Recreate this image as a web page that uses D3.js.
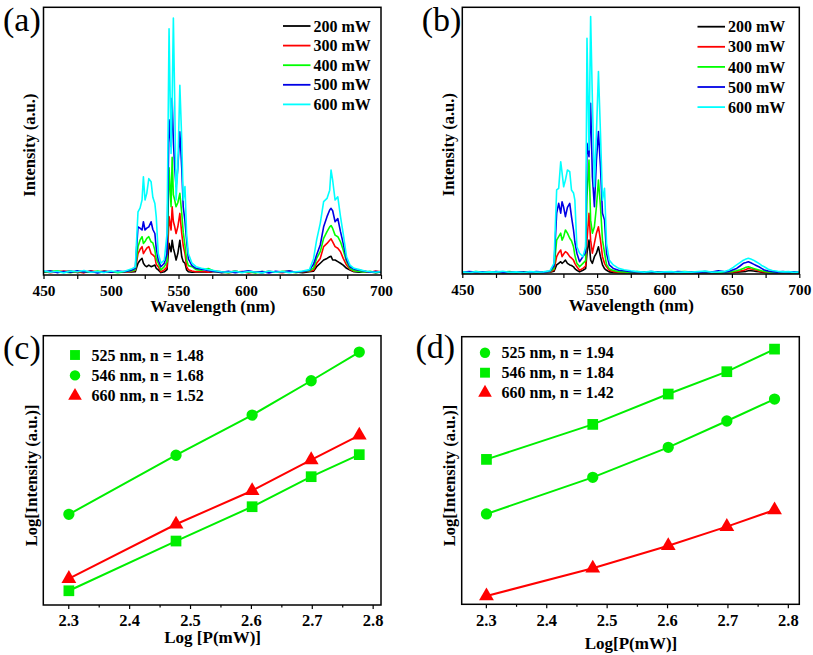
<!DOCTYPE html>
<html><head><meta charset="utf-8">
<script src="https://cdn.jsdelivr.net/npm/d3@7"></script>
<style>
body{margin:0;background:#fff}
svg{display:block}
text{font-family:"Liberation Serif","Times New Roman",serif;font-weight:bold;fill:#000}
</style>
</head><body>
<svg id="chart" width="813" height="655"></svg>
<script>
// ---------- data ----------
const powers = ["200 mW", "300 mW", "400 mW", "500 mW", "600 mW"];
const powerColors = ["#000000", "#ff0000", "#00ff00", "#0000e6", "#00ffff"];
const wlTicks = [450, 475, 500, 525, 550, 575, 600, 625, 650, 675, 700];

// panel (a) wavelengths (nm) and intensities (a.u.)
const wlA = [450,455,460,465,470,475,480,485,490,495,500,505,510,515,
  518,520,521.5,523,524,525.2,526.5,528,529.7,531,532.5,533.5,535,537,539.5,541.5,543,544.5,545.3,546.2,547.2,548.2,549.5,551,552.4,553.5,554.8,556,557.3,560,563,
  567,572,577,582,587,592,597,602,607,612,617,622,627,632,637,642,647,
  650,652.3,655,657.5,660,662,663,664.2,666,668,670,672,674.5,677,680,
  684,688,692,696,700];
const a200 = [1.1,1.4,1.0,1.2,1.5,0.9,1.3,1.1,1.0,1.4,1.2,1.0,1.3,1.1,
  1.2,4.4,5.5,6.2,4.4,3.5,3.1,3.7,3.1,3.4,3.7,2.5,1.9,0.9,1.2,2,11.8,8.7,13,10,8,5.6,8,13,6.8,5,4.4,1.9,1.2,1.0,1.1,
  1.2,1.0,1.3,0.9,1.1,1.4,1.0,1.2,1.1,0.9,1.3,1.0,1.2,1.4,1.1,0.9,1.2,
  1.4,3.1,4.4,5.6,6.2,6.8,7,5.6,5.6,5,4.4,3.7,2.5,1.9,1.2,
  1.0,1.3,1.1,0.9,1.1];
const a300 = [1.3,0.9,1.2,1.5,1.0,1.2,0.8,1.6,1.1,1.4,1.0,1.2,1.0,1.3,
  1.8,8,9.5,10.6,8,9,10,10.6,8,7.5,6.8,4,3.1,1.2,1.9,3,21.8,16.8,25.5,20,18,15.5,18,23,15.5,11,8,3.1,2,1.5,1.2,
  1.4,1.0,1.5,1.2,0.9,1.1,1.3,0.8,1.2,1.0,1.4,1.1,0.9,1.3,1.0,1.2,1.4,
  1.8,4.4,6.2,10.6,11.8,13,13.5,12.4,10.6,10,8.7,6.2,3.7,2.1,1.4,
  1.6,1.2,1.0,1.5,1.2];
const a400 = [1.0,1.3,1.6,1.1,0.9,1.4,1.2,1.0,1.5,1.1,1.3,0.9,1.2,1.5,
  2,10.6,13,14.3,11.8,12.5,13.7,14.3,12.4,12,9.3,6,4.4,1.9,3.1,5,40,25.5,44,30,28,25.5,27,30.5,23,16,11,5.6,3.5,3.1,2.0,
  1.8,2.4,1.3,1.1,0.9,1.4,1.0,1.2,0.8,1.3,1.1,1.0,1.4,1.2,0.9,1.3,1.6,
  2.5,6.2,8.7,13.7,16.2,18,18.5,17.4,14.9,14.3,12.4,9.3,5,2.5,1.6,
  1.3,1.1,1.4,0.9,1.2];
const a500 = [1.2,1.5,0.9,1.3,1.0,1.6,1.1,1.4,0.8,1.3,1.0,1.5,1.2,1.8,
  2.5,18,17.5,16.8,19.9,16.8,17.5,18,19.9,17,15.5,10,5.6,3.1,4.4,8,58,48,66,50,40,33,40,53.5,40,25.5,20,13,6,3.5,2.5,
  2.2,1.7,1.3,1.0,1.4,0.9,1.2,1.6,1.0,1.3,0.8,1.4,1.1,1.5,1.0,1.3,1.8,
  4,7.5,11.2,18,21.8,24.3,24.9,24,19.9,21.1,16.2,11.8,5.6,3.1,2.2,
  1.8,1.4,1.0,1.3,1.1];
const a600 = [1.6,1.0,1.4,0.8,1.5,1.2,1.7,1.0,1.3,0.9,1.5,1.1,1.4,2.2,
  3,23.6,25,28,36.7,28,30.5,36,34.8,29,26.7,21.8,8,4.4,5.6,15.5,92,45.4,65,96,65,28,40,70.9,50.4,28,33,15.5,8,4.4,3.1,
  2.5,2.0,1.6,1.2,1.0,1.4,0.9,1.3,1.1,0.8,1.5,1.0,1.3,0.9,1.2,1.5,2.0,
  6,13,19.3,27.4,28.6,31.7,39.2,35.4,28,29.2,21.8,15.5,6.8,3.7,2.5,
  2.0,1.5,1.2,1.0,1.3];

// panel (b)
const wlB = [450,455,460,465,470,475,480,485,490,495,500,505,510,515,
  518,520,521.5,523,524,525.2,526.5,528,529.7,531,532.5,533.5,535,537,539.5,541.5,542.5,544,545.2,546.5,548,549.5,551,552.5,554,555.5,557,559,562,566,
  570,575,580,585,590,595,600,605,610,615,620,625,630,635,640,645,
  648,651,653.5,656,658.5,660.5,662.2,664,666,668,670,672,674,677,680,
  684,688,692,696,700];
const b200 = [0.5,0.7,0.6,0.5,0.6,0.7,0.5,0.6,0.5,0.7,0.6,0.5,0.6,0.7,
  1.0,3.4,4,4.6,4,4.5,5.2,4,3.4,3.2,2.7,2,1.4,0.8,1.4,2,7.8,12.7,5.2,4,6.5,7.8,10.2,6.5,3.4,2,1.4,0.8,0.6,0.5,
  0.5,0.6,0.5,0.6,0.5,0.6,0.5,0.5,0.6,0.5,0.6,0.5,0.6,0.5,0.6,0.5,
  0.5,0.6,0.7,0.8,0.9,1.0,1.2,1.2,1.1,1.0,0.9,0.7,0.6,0.5,0.5,
  0.5,0.6,0.5,0.5,0.6];
const b300 = [0.6,0.8,0.5,0.7,0.9,0.6,0.7,0.5,0.8,0.6,0.7,0.8,0.6,0.7,
  1.5,6.5,8,9,6.5,7.5,8.4,7.8,6.5,6,5.2,4,2.7,1.4,2.1,3,12.7,22.8,12.7,7.8,11.5,15.3,17.7,12.7,6.5,4,2.7,1.4,0.9,0.7,
  0.6,0.7,0.5,0.8,0.6,0.7,0.5,0.6,0.8,0.6,0.7,0.5,0.6,0.7,0.6,0.7,
  0.7,0.8,0.9,1.1,1.3,1.7,2.1,1.9,1.8,1.5,1.1,0.9,0.8,0.7,0.6,
  0.6,0.5,0.7,0.6,0.6];
const b400 = [0.7,0.6,0.9,0.7,0.6,0.8,0.7,0.9,0.6,0.8,0.7,0.6,0.8,0.9,
  2,12.7,14,15.3,12.7,14,16.5,15.3,13.4,12.5,10.2,7,4,2.7,4,5,29,42.7,20.2,15.3,17.7,25.2,35.2,25.2,12.7,8,3.5,2.0,1.3,0.9,
  0.8,0.6,0.9,0.7,0.6,0.8,0.7,0.6,0.8,0.9,0.7,0.6,0.8,0.7,0.6,0.8,
  0.8,1.0,1.2,1.6,2.1,2.5,2.7,2.4,2.1,1.8,1.5,1.2,1.0,0.8,0.7,
  0.6,0.8,0.7,0.6,0.8];
const b500 = [0.6,0.9,0.7,0.8,0.5,0.9,0.7,0.6,0.8,0.7,0.6,0.9,0.7,1.0,
  3,22.8,26.5,22.8,27.1,25,21.5,25,26.5,21.5,16.5,12,7.8,4.6,6.5,8,49,44,64,36.5,25.2,42.7,53.4,40.2,22.8,20.2,7.8,3.4,2.1,1.4,
  1.2,0.9,0.8,0.6,0.9,0.7,0.8,0.6,0.9,0.7,0.8,0.6,0.9,0.7,1.2,0.8,
  1.0,1.6,2.1,3.0,4.0,4.3,4.6,4.2,3.7,3.2,2.7,2.1,1.5,1.1,0.9,
  0.7,0.9,0.6,0.8,0.7];
const b600 = [0.8,0.5,0.9,0.6,0.8,0.7,1.0,0.6,0.8,0.5,0.9,0.7,0.8,1.2,
  4,31.5,32.1,42.1,38,32.7,35.2,39,38.4,31.5,30.4,27.7,10.2,7.8,6.5,10.2,88.4,46.5,96.5,65.2,32.7,52.8,75.9,52.8,27.7,32.1,11.5,5.2,3.4,2.1,
  1.6,1.2,0.9,0.7,1.0,0.6,0.8,0.9,0.6,0.8,0.7,0.9,1.1,0.7,0.8,1.0,
  1.5,2.5,3.4,4.3,5.2,5.6,5.9,5.6,5.2,4.6,4,3.2,2.7,1.8,1.3,
  1.0,0.8,0.9,0.6,0.8];

// panels (c), (d): log power vs log intensity
const logP = [2.301, 2.477, 2.602, 2.699, 2.778];
const logPTicks = [2.3, 2.4, 2.5, 2.6, 2.7, 2.8];
const c525 = [2.073, 2.328, 2.504, 2.658, 2.771];
const c546 = [2.465, 2.768, 2.974, 3.150, 3.297];
const c660 = [2.135, 2.414, 2.586, 2.744, 2.870];
const d525 = [2.720, 3.012, 3.251, 3.461, 3.636];
const d546 = [3.155, 3.434, 3.676, 3.854, 4.034];
const d660 = [2.066, 2.287, 2.467, 2.619, 2.752];
const cLabels = ["525 nm, n = 1.48", "546 nm, n = 1.68", "660 nm, n = 1.52"];
const dLabels = ["525 nm, n = 1.94", "546 nm, n = 1.84", "660 nm, n = 1.42"];

// ---------- drawing ----------
const svg = d3.select("#chart");
const GREEN = "#00ee00", RED = "#ff0000";

function frameRect(f) {
  svg.append("rect").attr("x", f.l).attr("y", f.t)
    .attr("width", f.r - f.l).attr("height", f.b - f.t)
    .attr("fill", "none").attr("stroke", "#000").attr("stroke-width", 1.5);
}

function panelLabel(txt, x, y) {
  svg.append("text").attr("x", x).attr("y", y).text(txt)
    .style("font-weight", "normal").style("font-size", "34px");
}

function yTitle(txt, x, y, size) {
  svg.append("text").attr("transform", `translate(${x},${y}) rotate(-90)`)
    .attr("text-anchor", "middle").attr("dy", "0.35em")
    .style("font-size", size + "px").text(txt);
}

function spectraPanel(f, wl, series, lab, legend) {
  const x = d3.scaleLinear().domain([450, 700]).range([f.l, f.r]);
  const y = d3.scaleLinear().domain([0, 100]).range([f.b, f.t]);
  const id = "clip" + lab.replace(/\W/g, "");
  svg.append("clipPath").attr("id", id).append("rect")
    .attr("x", f.l).attr("y", f.t).attr("width", f.r - f.l).attr("height", f.b - f.t);
  const g = svg.append("g").attr("clip-path", `url(#${id})`);
  const line = d3.line().x((d, i) => x(wl[i])).y(d => y(d));
  series.forEach((s, k) => {
    g.append("path").datum(s).attr("d", line).attr("fill", "none")
      .attr("stroke", powerColors[k]).attr("stroke-width", 1.6)
      .attr("stroke-linejoin", "round");
  });
  frameRect(f);
  const ax = svg.append("g").attr("transform", `translate(0,${f.b})`)
    .call(d3.axisBottom(x).tickValues(wlTicks).tickSize(4).tickPadding(6)
      .tickFormat(d => d % 50 === 0 ? d : ""));
  ax.select(".domain").remove();
  ax.selectAll("line").attr("stroke", "#000").attr("stroke-width", 1.2);
  ax.selectAll("text").style("font-size", "15.3px").style("font-family", "Liberation Serif").style("font-weight", "bold");
  svg.append("text").attr("x", (f.l + f.r) / 2 + 0.5).attr("y", f.b + 37)
    .attr("text-anchor", "middle").style("font-size", "17px").text("Wavelength (nm)");
  yTitle("Intensity (a.u.)", f.l - 14.5, (f.t + f.b) / 2 + 4, 16.5);
  panelLabel(lab, f.l - 40.5, 30.5);
  // legend
  powers.forEach((p, k) => {
    const yy = legend.y + k * legend.dy;
    svg.append("line").attr("x1", legend.x).attr("x2", legend.x + 27.5)
      .attr("y1", yy).attr("y2", yy).attr("stroke", powerColors[k]).attr("stroke-width", 1.8);
    svg.append("text").attr("x", legend.x + 30.5).attr("y", yy).attr("dy", "0.35em")
      .style("font-size", "16px").text(p);
  });
}

spectraPanel({l: 43.5, r: 381, t: 7.3, b: 275}, wlA, [a200, a300, a400, a500, a600], "(a)",
  {x: 283, y: 26, dy: 19.6});
spectraPanel({l: 462.3, r: 799.3, t: 7.3, b: 274}, wlB, [b200, b300, b400, b500, b600], "(b)",
  {x: 697.5, y: 26.7, dy: 20.1});

function symbolPath(type, size) {
  const t = type === "square" ? d3.symbolSquare : type === "circle" ? d3.symbolCircle : d3.symbolTriangle;
  return d3.symbol().type(t).size(size)();
}
const symSize = {square: 115, circle: 100, triangle: 95};

function logPanel(f, xDom, yDom, sets, labels, lab, labPos, legend, xTitle, xTitleY) {
  const x = d3.scaleLinear().domain(xDom).range([f.l, f.r]);
  const y = d3.scaleLinear().domain(yDom).range([f.b, f.t]);
  frameRect(f);
  const line = d3.line().x((d, i) => x(logP[i])).y(d => y(d));
  sets.forEach(s => {
    svg.append("path").datum(s.vals).attr("d", line).attr("fill", "none")
      .attr("stroke", s.color).attr("stroke-width", 2);
  });
  sets.forEach(s => {
    svg.append("g").selectAll("path").data(s.vals).join("path")
      .attr("transform", (d, i) => `translate(${x(logP[i])},${y(d)})`)
      .attr("d", symbolPath(s.shape, symSize[s.shape]))
      .attr("fill", s.color);
  });
  const ax = svg.append("g").attr("transform", `translate(0,${f.b})`)
    .call(d3.axisBottom(x).tickValues(logPTicks).tickSize(4).tickPadding(5.6).tickFormat(d3.format(".1f")));
  ax.select(".domain").remove();
  ax.selectAll("line").attr("stroke", "#000").attr("stroke-width", 1.2);
  ax.selectAll("text").style("font-size", "16.5px").style("font-family", "Liberation Serif").style("font-weight", "bold");
  const minor = svg.append("g").attr("transform", `translate(0,${f.b})`)
    .call(d3.axisBottom(x).tickValues(logPTicks.slice(0, -1).map(v => v + 0.05)).tickSize(2.5).tickFormat(""));
  minor.select(".domain").remove();
  minor.selectAll("line").attr("stroke", "#000").attr("stroke-width", 1.2);
  svg.append("text").attr("x", (f.l + f.r) / 2 + 0.5).attr("y", xTitleY)
    .attr("text-anchor", "middle").style("font-size", "17px").text(xTitle);
  yTitle("Log[Intensity (a.u.)]", f.l - 12, (f.t + f.b) / 2 + 5, 16.5);
  panelLabel(lab, labPos[0], labPos[1]);
  sets.forEach((s, k) => {
    const yy = legend.y + k * legend.dy;
    svg.append("path").attr("transform", `translate(${legend.x},${yy})`)
      .attr("d", symbolPath(s.shape, symSize[s.shape] * 0.85)).attr("fill", s.color);
    svg.append("text").attr("x", legend.x + 16.5).attr("y", yy).attr("dy", "0.35em")
      .style("font-size", "16px").text(labels[k]);
  });
}

logPanel({l: 43.3, r: 381, t: 335.7, b: 605}, [2.259, 2.8137], [2.0, 3.381],
  [{vals: c525, color: GREEN, shape: "square"},
   {vals: c546, color: GREEN, shape: "circle"},
   {vals: c660, color: RED, shape: "triangle"}],
  cLabels, "(c)", [3, 359], {x: 75, y: 355, dy: 20.4}, "Log [P(mW)]", 643);

logPanel({l: 461.7, r: 799.3, t: 336.7, b: 604.3}, [2.26, 2.819], [2.0, 4.133],
  [{vals: d525, color: GREEN, shape: "circle"},
   {vals: d546, color: GREEN, shape: "square"},
   {vals: d660, color: RED, shape: "triangle"}],
  dLabels, "(d)", [415.5, 358], {x: 485, y: 352.7, dy: 20}, "Log[P(mW)]", 649);
</script>
</body></html>
